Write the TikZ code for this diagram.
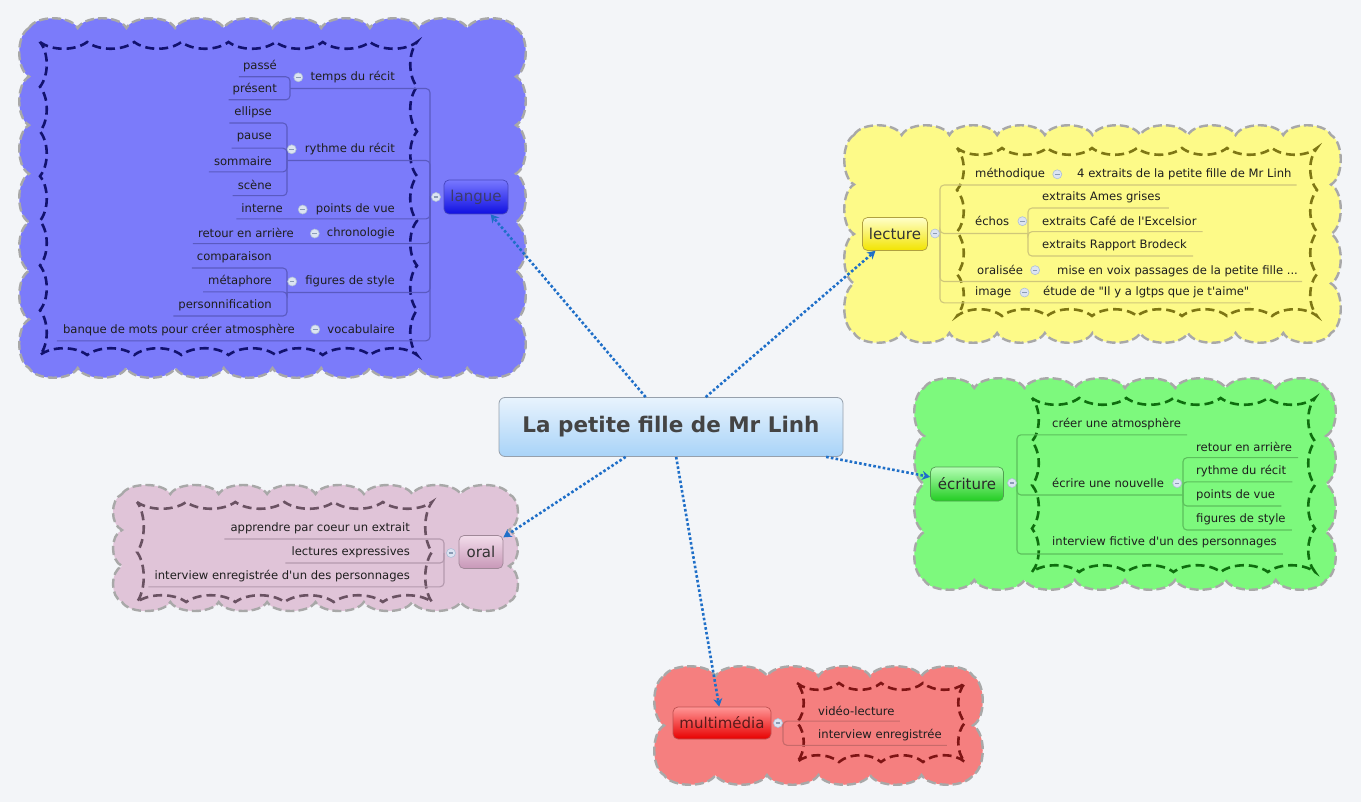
\documentclass[tikz,border=0pt]{standalone}
\usepackage{fontspec}
\setmainfont{DejaVu Sans}
\usetikzlibrary{arrows.meta,calc}
\definecolor{bg}{HTML}{F3F5F8}
\definecolor{lanF}{HTML}{7B7BFA}\definecolor{lanW}{HTML}{12126E}\definecolor{lanL}{HTML}{5A5AC0}
\definecolor{lecF}{HTML}{FDFA88}\definecolor{lecW}{HTML}{7E7614}\definecolor{lecL}{HTML}{CFC77A}
\definecolor{ecrF}{HTML}{7DF97D}\definecolor{ecrW}{HTML}{0E6E0E}\definecolor{ecrL}{HTML}{5CC05C}
\definecolor{orF}{HTML}{E0C4D8}\definecolor{orW}{HTML}{6A5262}\definecolor{orL}{HTML}{B49AAE}
\definecolor{mulF}{HTML}{F57F7F}\definecolor{mulW}{HTML}{7E1414}\definecolor{mulL}{HTML}{C86A6A}
\definecolor{cloudb}{HTML}{A8A8A8}
\definecolor{connc}{HTML}{1F6FC8}
\definecolor{txtc}{HTML}{1E1E1E}
\definecolor{collf}{HTML}{DCE4F2}\definecolor{collb}{HTML}{AFC0D8}\definecolor{collm}{HTML}{8A9BB5}
\newcommand\myq{\textquotesingle}
\newcommand\mydq{\textquotedbl}
% outer scalloped cloud: x0 y0 x1 y1 nx ny h options
\newcommand\cloudshape[8]{%
  \pgfmathsetmacro\cw{(#3-#1)/#5}%
  \pgfmathsetmacro\ch{(#4-#2)/#6}%
  \path[#8] (#1,#2)
   \foreach \i in {1,...,#5}{ .. controls ({#1+(\i-1)*\cw+0.15*\cw},{#2-#7}) and ({#1+\i*\cw-0.15*\cw},{#2-#7}) .. ({#1+\i*\cw},#2) }
   \foreach \i in {1,...,#6}{ .. controls ({#3+#7},{#2+(\i-1)*\ch+0.15*\ch}) and ({#3+#7},{#2+\i*\ch-0.15*\ch}) .. (#3,{#2+\i*\ch}) }
   \foreach \i in {1,...,#5}{ .. controls ({#3-(\i-1)*\cw-0.15*\cw},{#4+#7}) and ({#3-\i*\cw+0.15*\cw},{#4+#7}) .. ({#3-\i*\cw},#4) }
   \foreach \i in {1,...,#6}{ .. controls ({#1-#7},{#4-(\i-1)*\ch-0.15*\ch}) and ({#1-#7},{#4-\i*\ch+0.15*\ch}) .. (#1,{#4-\i*\ch}) }
   -- cycle;}
% inner wavy boundary: x0 y0 x1 y1 nx ny a options
\newcommand\wavebox[8]{%
  \pgfmathsetmacro\cw{(#3-#1)/#5}%
  \pgfmathsetmacro\ch{(#4-#2)/#6}%
  \path[#8] (#1,#2)
   \foreach \i in {1,...,#5}{ .. controls ({#1+(\i-1)*\cw+\cw/4},{#2+#7}) and ({#1+\i*\cw-\cw/4},{#2+#7}) .. ({#1+\i*\cw},#2) }
   \foreach \i in {1,...,#6}{ .. controls ({#3-#7},{#2+(\i-1)*\ch+\ch/4}) and ({#3-#7},{#2+\i*\ch-\ch/4}) .. (#3,{#2+\i*\ch}) }
   \foreach \i in {1,...,#5}{ .. controls ({#3-(\i-1)*\cw-\cw/4},{#4-#7}) and ({#3-\i*\cw+\cw/4},{#4-#7}) .. ({#3-\i*\cw},#4) }
   \foreach \i in {1,...,#6}{ .. controls ({#1+#7},{#4-(\i-1)*\ch-\ch/4}) and ({#1+#7},{#4-\i*\ch+\ch/4}) .. (#1,{#4-\i*\ch}) }
   -- cycle;}
\begin{document}
\begin{tikzpicture}[x=1pt,y=-1pt,
  txt/.style={font=\fontsize{11.6}{13}\selectfont, text=txtc, inner sep=0pt},
  brnode/.style={rounded corners=5pt, font=\fontsize{15}{17}\selectfont, inner sep=0pt, line width=0.7pt},
  coll/.style={circle, minimum size=9pt, inner sep=0pt, fill=collf, draw=collb, line width=0.6pt,
    path picture={\draw[collm, line width=1.1pt] ([xshift=-2.3pt]path picture bounding box.center) -- ([xshift=2.3pt]path picture bounding box.center);}},
  conn/.style={draw=connc, line width=2.6pt, dash pattern=on 2.6pt off 2.2pt, -{Stealth[length=8pt,width=9pt,inset=2.5pt]}},
  cloudfill/.style={fill=#1, draw=cloudb, line width=2.4pt, dash pattern=on 9pt off 4pt},
  wavebd/.style={draw=#1, line width=2.6pt, dash pattern=on 9pt off 5pt},
  tl/.style={draw=#1, line width=1.1pt, rounded corners=4pt},
  rootnode/.style={rounded corners=6pt, minimum width=344pt, minimum height=59pt, top color={rgb,255:red,232;green,243;blue,253}, bottom color={rgb,255:red,168;green,211;blue,248}, draw={rgb,255:red,150;green,160;blue,172}, line width=0.8pt, font=\fontsize{21.5}{24}\selectfont\bfseries, text={rgb,255:red,68;green,68;blue,68}},
]
\useasboundingbox[fill=bg] (0,0) rectangle (1361,802);

% ---------- clouds ----------
\cloudshape{29}{28}{516}{368}{10}{7}{13}{cloudfill=lanF}
\wavebox{40}{42}{417}{355}{8}{7}{9}{wavebd=lanW}
\cloudshape{854}{135}{1331}{333}{10}{4}{13}{cloudfill=lecF}
\wavebox{957}{148}{1317}{316}{8}{4}{9}{wavebd=lecW}
\cloudshape{924}{388}{1326}{580}{8}{4}{13}{cloudfill=ecrF}
\wavebox{1032}{398}{1315}{572}{6}{4}{9}{wavebd=ecrW}
\cloudshape{122}{494}{509}{602}{8}{3}{12}{cloudfill=orF}
\wavebox{137}{502}{432}{602}{6}{2}{9}{wavebd=orW}
\cloudshape{664}{676}{973}{775}{6}{2}{13}{cloudfill=mulF}
\wavebox{797}{683}{965}{762}{4}{2}{9}{wavebd=mulW}

% ---------- root and branches ----------
\node[rootnode] (root) at (671,427) {La petite fille de Mr Linh};
\node[brnode, minimum width=64pt, minimum height=34pt, top color={rgb,255:red,120;green,120;blue,255}, bottom color={rgb,255:red,16;green,16;blue,225}, draw={rgb,255:red,70;green,70;blue,190}, text={rgb,255:red,60;green,60;blue,108}] (langue) at (476,197) {langue};
\node[brnode, minimum width=65pt, minimum height=33pt, top color={rgb,255:red,255;green,255;blue,200}, bottom color={rgb,255:red,242;green,228;blue,0}, draw={rgb,255:red,176;green,160;blue,64}, text={rgb,255:red,51;green,51;blue,51}] (lecture) at (895,234) {lecture};
\node[brnode, minimum width=73pt, minimum height=34pt, top color={rgb,255:red,180;green,255;blue,180}, bottom color={rgb,255:red,34;green,204;blue,34}, draw={rgb,255:red,80;green,160;blue,80}, text={rgb,255:red,42;green,42;blue,42}] (ecriture) at (967,484) {écriture};
\node[brnode, minimum width=44pt, minimum height=33pt, top color={rgb,255:red,242;green,220;blue,234}, bottom color={rgb,255:red,200;green,152;blue,184}, draw={rgb,255:red,160;green,136;blue,152}, text={rgb,255:red,51;green,51;blue,51}] (oral) at (481,552) {oral};
\node[brnode, minimum width=98pt, minimum height=32pt, top color={rgb,255:red,255;green,150;blue,150}, bottom color={rgb,255:red,232;green,0;blue,0}, draw={rgb,255:red,192;green,80;blue,80}, text={rgb,255:red,90;green,26;blue,26}] (multi) at (722,723) {multimédia};

% ---------- langue texts ----------
\node[txt, anchor=mid east] (temps) at (395,78) {temps du récit};
\node[txt, anchor=mid east] (rythme) at (395,150) {rythme du récit};
\node[txt, anchor=mid east] (pdv) at (395,210) {points de vue};
\node[txt, anchor=mid east] (chrono) at (395,234) {chronologie};
\node[txt, anchor=mid east] (figs) at (395,282) {figures de style};
\node[txt, anchor=mid east] (vocab) at (395,331) {vocabulaire};
\node[txt, anchor=mid east] (passe) at (277,67) {passé};
\node[txt, anchor=mid east] (present) at (277,90) {présent};
\node[txt, anchor=mid east] (ellipse) at (272,113) {ellipse};
\node[txt, anchor=mid east] (pause) at (272,137) {pause};
\node[txt, anchor=mid east] (sommaire) at (272,163) {sommaire};
\node[txt, anchor=mid east] (scene) at (272,187) {scène};
\node[txt, anchor=mid east] (interne) at (283,210) {interne};
\node[txt, anchor=mid east] (retour) at (294,235) {retour en arrière};
\node[txt, anchor=mid east] (compar) at (272,258) {comparaison};
\node[txt, anchor=mid east] (metaph) at (272,282) {métaphore};
\node[txt, anchor=mid east] (perso) at (272,306) {personnification};
\node[txt, anchor=mid east] (banque) at (295,331) {banque de mots pour créer atmosphère};

\coordinate (jL) at (430,197);
\coordinate (jT) at (290,88.5);
\coordinate (jR) at (287,160.5);
\coordinate (jF) at (287,292.5);
\draw[tl=lanL] (jL) |- (jT);
\draw[tl=lanL] (jL) |- (jR);
\draw[tl=lanL] (jL) |- ([shift={(-5,10.5)}]interne.west);
\draw[tl=lanL] (jL) |- ([shift={(-5,10.5)}]retour.west);
\draw[tl=lanL] (jL) |- (jF);
\draw[tl=lanL] (jL) |- ([shift={(-6,10.5)}]banque.west);
\draw[tl=lanL] (jT) |- ([shift={(-4,10.5)}]passe.west);
\draw[tl=lanL] (jT) |- ([shift={(-4,10.5)}]present.west);
\draw[tl=lanL] (jR) |- ([shift={(-5,10.5)}]ellipse.west);
\draw[tl=lanL] (jR) |- ([shift={(-5,10.5)}]pause.west);
\draw[tl=lanL] (jR) |- ([shift={(-5,10.5)}]sommaire.west);
\draw[tl=lanL] (jR) |- ([shift={(-5,10.5)}]scene.west);
\draw[tl=lanL] (jF) |- ([shift={(-5,10.5)}]compar.west);
\draw[tl=lanL] (jF) |- ([shift={(-5,10.5)}]metaph.west);
\draw[tl=lanL] (jF) |- ([shift={(-5,10.5)}]perso.west);
\node[coll] (cL) at (436,197) {};
\draw[tl=lanL] (cL) -- (jL);
\node[coll] (cTemps) at ([xshift=-12]temps.west) {};
\node[coll] (cRythme) at ([xshift=-13]rythme.west) {};
\node[coll] (cPdv) at ([xshift=-13]pdv.west) {};
\node[coll] (cChrono) at ([xshift=-12]chrono.west) {};
\node[coll] (cFigs) at ([xshift=-13]figs.west) {};
\node[coll] (cVocab) at ([xshift=-12]vocab.west) {};

% ---------- lecture texts ----------
\node[txt, anchor=mid west] (meth) at (975,175) {méthodique};
\node[txt, anchor=mid west] (extr) at (1077,175) {4 extraits de la petite fille de Mr Linh};
\node[txt, anchor=mid west] (echos) at (975,223) {échos};
\node[txt, anchor=mid west] (ames) at (1042,198) {extraits Ames grises};
\node[txt, anchor=mid west] (cafe) at (1042,223) {extraits Café de l\myq Excelsior};
\node[txt, anchor=mid west] (brodeck) at (1042,246) {extraits Rapport Brodeck};
\node[txt, anchor=mid west] (oralisee) at (977,272) {oralisée};
\node[txt, anchor=mid west] (mise) at (1057,272) {mise en voix passages de la petite fille ...};
\node[txt, anchor=mid west] (image) at (975,293) {image};
\node[txt, anchor=mid west] (etude) at (1043,293) {étude de \mydq Il y a lgtps que je t\myq aime\mydq};
\coordinate (jLe) at (940,233.5);
\coordinate (jE) at (1028,233.5);
\draw[tl=lecL] (jLe) |- ([shift={(5,10.5)}]extr.east);
\draw[tl=lecL] (jLe) |- (jE);
\draw[tl=lecL] (jLe) |- ([shift={(4,10)}]mise.east);
\draw[tl=lecL] (jLe) |- ([shift={(1,10.5)}]etude.east);
\draw[tl=lecL] (jE) |- ([shift={(8,10.5)}]ames.east);
\draw[tl=lecL] (jE) |- ([shift={(6,10.5)}]cafe.east);
\draw[tl=lecL] (jE) |- ([shift={(6,10.5)}]brodeck.east);
\node[coll] (cLe) at (935,233.5) {};
\node[coll] (cMeth) at ([xshift=12]meth.east) {};
\node[coll] (cEchos) at ([xshift=13]echos.east) {};
\node[coll] (cOralisee) at ([xshift=12]oralisee.east) {};
\node[coll] (cImage) at ([xshift=13]image.east) {};

% ---------- ecriture texts ----------
\node[txt, anchor=mid west] (creer) at (1052,425) {créer une atmosphère};
\node[txt, anchor=mid west] (ecrire) at (1052,485) {écrire une nouvelle};
\node[txt, anchor=mid west] (retourB) at (1196,449) {retour en arrière};
\node[txt, anchor=mid west] (rythmeB) at (1196,472) {rythme du récit};
\node[txt, anchor=mid west] (pdvB) at (1196,496) {points de vue};
\node[txt, anchor=mid west] (figsB) at (1196,520) {figures de style};
\node[txt, anchor=mid west] (interv) at (1052,543) {interview fictive d\myq un des personnages};
\coordinate (jEc) at (1017,483);
\coordinate (jN) at (1183,495);
\draw[tl=ecrL] (jEc) |- ([shift={(6,10.5)}]creer.east);
\draw[tl=ecrL] (jEc) |- (jN);
\draw[tl=ecrL] (jEc) |- ([shift={(6,11.5)}]interv.east);
\draw[tl=ecrL] (jN) |- ([shift={(6,10.5)}]retourB.east);
\draw[tl=ecrL] (jN) |- ([shift={(6,10.5)}]rythmeB.east);
\draw[tl=ecrL] (jN) |- ([shift={(6,10.5)}]pdvB.east);
\draw[tl=ecrL] (jN) |- ([shift={(6,10.5)}]figsB.east);
\node[coll] (cE) at (1012,483) {};
\node[coll] (cEcrire) at ([xshift=13]ecrire.east) {};

% ---------- oral texts ----------
\node[txt, anchor=mid east] (appr) at (410,529) {apprendre par coeur un extrait};
\node[txt, anchor=mid east] (lect) at (410,553) {lectures expressives};
\node[txt, anchor=mid east] (intE) at (410,577) {interview enregistrée d\myq un des personnages};
\coordinate (jO) at (444,553);
\draw[tl=orL] (jO) |- ([shift={(-6,10.5)}]appr.west);
\draw[tl=orL] (jO) |- ([shift={(-6,10.5)}]lect.west);
\draw[tl=orL] (jO) |- ([shift={(-6,10.5)}]intE.west);
\node[coll] (cO) at (451,553) {};

% ---------- multimedia texts ----------
\node[txt, anchor=mid west] (video) at (818,713) {vidéo-lecture};
\node[txt, anchor=mid west] (intM) at (818,736) {interview enregistrée};
\coordinate (jM) at (783,723);
\draw[tl=mulL] (jM) |- ([shift={(5,10)}]video.east);
\draw[tl=mulL] (jM) |- ([shift={(5,10)}]intM.east);
\node[coll] (cM) at (778,723) {};

% ---------- connectors ----------
\draw[conn] (root) -- (langue);
\draw[conn] (root) -- (lecture);
\draw[conn] (root) -- (ecriture);
\draw[conn] (root) -- (oral);
\draw[conn] (root) -- (multi);
\end{tikzpicture}
\end{document}
